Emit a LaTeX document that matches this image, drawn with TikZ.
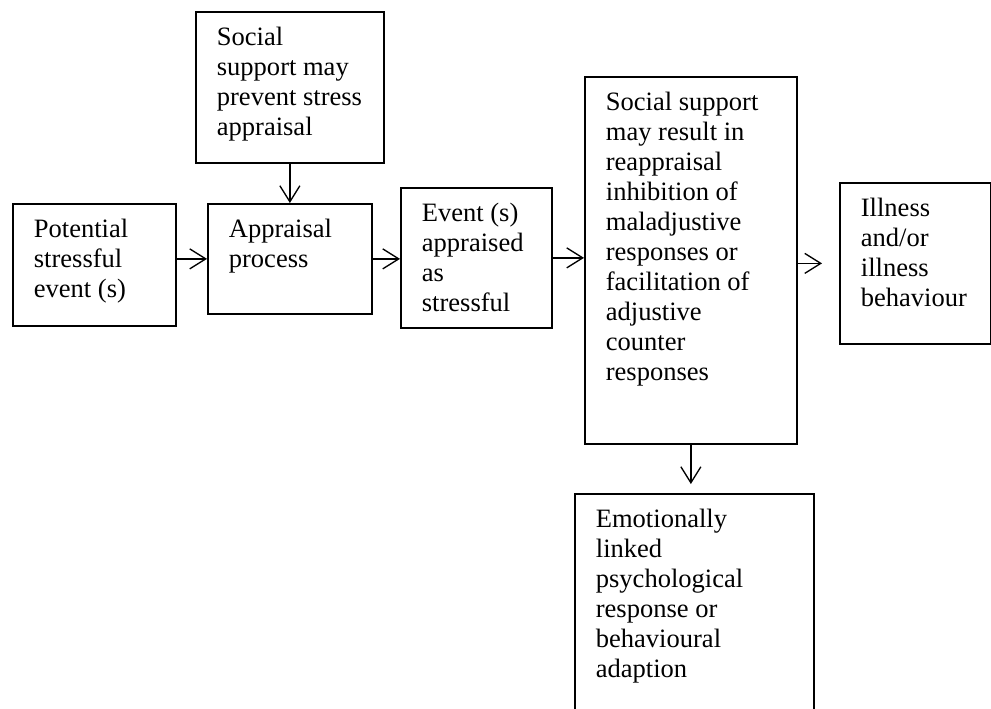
\documentclass[tikz,border=0pt]{standalone}
\usepackage{fontspec}
\setmainfont{Liberation Serif}
\usetikzlibrary{arrows.meta}

% top-aligned box body: width, height, text
\newcommand{\boxbody}[3]{\parbox[c][#2][t]{#1}{\strut#3}}

\begin{document}
\begin{tikzpicture}[
    x=0.75pt, y=-0.75pt,
    stage/.style={rectangle, draw=black, line width=1.3pt, anchor=north west, inner xsep=15.75pt, inner ysep=9.75pt, font=\fontsize{19.9pt}{22.5pt}\selectfont},
    flow/.style={draw, line width=1pt, -{Straight Barb[length=12pt, width=15pt, line width=1pt]}}
]
\clip (0,0) rectangle (991,708);

% Stages
\node[stage] (event) at (12,203) {\boxbody{90.75pt}{72pt}{Potential\\stressful\\event (s)}};
\node[stage] (prevent) at (195,11) {\boxbody{109.5pt}{93.75pt}{Social\\support may\\prevent stress\\appraisal}};
\node[stage] (appraisal) at (207,203) {\boxbody{91.5pt}{63pt}{Appraisal\\process}};
\node[stage] (stressful) at (400,187) {\boxbody{81.75pt}{85.5pt}{Event (s)\\appraised\\as\\stressful}};
\node[stage] (reappraisal) at (584,76) {\boxbody{127.5pt}{255.75pt}{Social support\\may result in\\reappraisal\\inhibition of\\maladjustive\\responses or\\facilitation of\\adjustive\\counter\\responses}};
\node[stage] (illness) at (839,182) {\boxbody{81.75pt}{101.25pt}{Illness\\and/or\\illness\\behaviour}};
\node[stage] (emotion) at (574,493) {\boxbody{147.75pt}{175.5pt}{Emotionally\\linked\\psychological\\response or\\behavioural\\adaption}};

% Connections
\path[flow] (event.east |- appraisal.west) -- (appraisal.west);
\path[flow] (prevent.south) -- (appraisal.north);
\path[flow] (appraisal.east) -- (stressful.west |- appraisal.east);
\path[flow] (stressful.east) -- (reappraisal.west |- stressful.east);
\path[flow, shorten >=12.75pt] (reappraisal.east |- illness.west) -- (illness.west);
\path[flow, shorten >=6.75pt] (reappraisal.south) -- (reappraisal.south |- emotion.north);

\end{tikzpicture}
\end{document}
